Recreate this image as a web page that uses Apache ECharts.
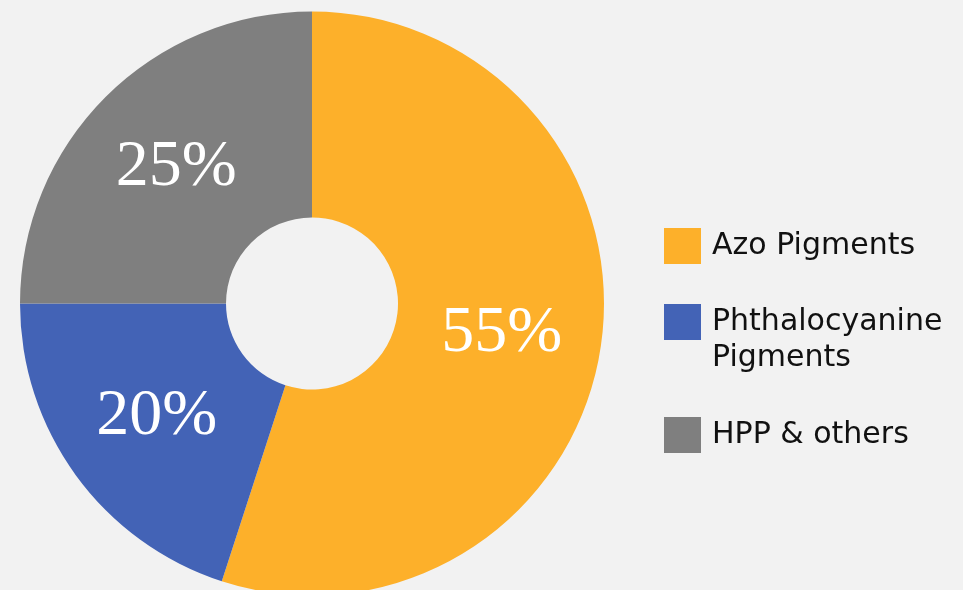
<!DOCTYPE html>
<html>
<head>
<meta charset="utf-8">
<script src="https://cdn.jsdelivr.net/npm/echarts@6/dist/echarts.min.js"></script>
<style>
  html, body { margin: 0; padding: 0; background: #f2f2f2; }
  #chart { width: 963px; height: 590px; }
</style>
</head>
<body>
<div id="chart"></div>
<script>
// data
const categories = ['Azo Pigments', 'Phthalocyanine Pigments', 'HPP & others'];
const shares = [55, 20, 25];
const colors = ['#fdb02a', '#4363b6', '#7f7f7f'];
// legend text lines (first-line aligned with the swatch)
const legendLabels = ['Azo Pigments', '\nPhthalocyanine\nPigments', 'HPP & others'];
const legendCenters = [246, 322, 435];

let chart = echarts.init(document.getElementById('chart'), null, {renderer: 'canvas'});

let pieData = categories.map((name, i) => ({
    name: name,
    value: shares[i],
    itemStyle: {color: colors[i]}
}));

// one legend per item so each swatch can sit where the original has it
let legends = categories.map((name, i) => {
    let lines = legendLabels[i].split('\n').length;
    return {
        orient: 'vertical',
        left: 664,
        top: legendCenters[i] - lines * 36 / 2,
        padding: 0,
        icon: 'rect',
        itemWidth: 37,
        itemHeight: 36,
        selectedMode: false,
        data: [name],
        formatter: () => legendLabels[i],
        textStyle: {
            fontFamily: 'DejaVu Sans',
            fontSize: 30,
            lineHeight: 36,
            color: '#111',
            padding: [0, 0, 0, 6]
        }
    };
});

chart.setOption({
    backgroundColor: '#f2f2f2',
    animation: false,
    legend: legends,
    series: [
        {
            type: 'pie',
            center: [312, 303.5],
            radius: [86, 292],
            startAngle: 90,
            clockwise: true,
            silent: true,
            itemStyle: {borderWidth: 0},
            label: {
                show: true,
                position: 'inside',
                formatter: '{d}%',
                color: '#fff',
                fontFamily: 'Liberation Serif',
                fontSize: 66,
                padding: [12, 0, 0, 0]
            },
            labelLine: {show: false},
            emphasis: {disabled: true},
            data: pieData
        }
    ]
});
</script>
</body>
</html>
